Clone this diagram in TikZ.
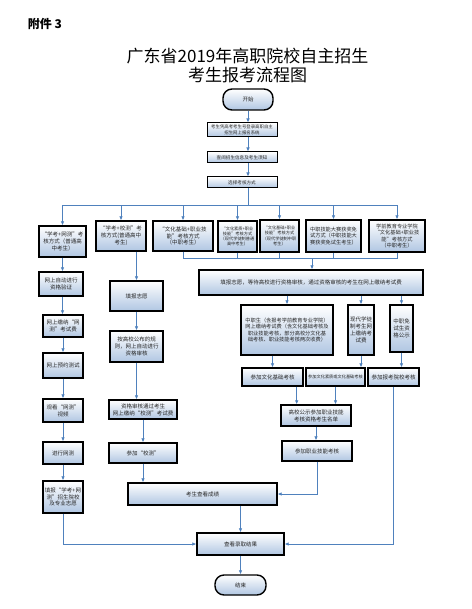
\documentclass[tikz,border=0pt]{standalone}
\usepackage{fontspec}
\setmainfont{Noto Sans CJK SC}
\usepackage{tikz}
\usetikzlibrary{arrows.meta, calc}
\definecolor{flowblue}{RGB}{79,129,189}
\definecolor{boxblue}{RGB}{176,198,226}
\newcommand{\sz}[1]{\fontsize{#1}{#1}\selectfont\baselineskip=1.25\baselineskip}

\begin{document}
\begin{tikzpicture}[x=1pt, y=-1pt, >={Latex[length=4pt,width=3.6pt]},
  box/.style={draw=black, line width=1.4pt, top color=white, bottom color=boxblue,
    align=center, inner sep=1pt, text=black!85, font=\sz{5.5}},
  term/.style={box, rounded corners=9pt},
  flow/.style={draw=flowblue, line width=0.9pt}]
  \useasboundingbox (0,0) rectangle (471,609);

  % heading
  \node[font=\bfseries\sz{12}] (annex) at (45,24) {附件 3};
  \node[font=\sz{17}] (title1) at (247.5,56) {广东省2019年高职院校自主招生};
  \node[font=\sz{17}] (title2) at (247.5,75) {考生报考流程图};

  % common start
  \node[term, minimum width=50, minimum height=21] (start) at (248,99.5) {开始};
  \node[box, line width=1pt, font=\sz{4.4}, minimum width=70, minimum height=14] (login) at (242,130)
    {考生凭高考考生号登录高职自主\\招生网上报名系统};
  \node[box, line width=1pt, font=\sz{4.6}, minimum width=70, minimum height=11] (info) at (242,157.5)
    {查阅招生信息及考生须知};
  \node[box, line width=1pt, font=\sz{4.6}, minimum width=70, minimum height=11] (choose) at (242,182.5)
    {选择考核方式};

  % assessment modes
  \node[box, minimum width=47, minimum height=31] (m1) at (62.5,241.5)
    {“学考+网测”考\\核方式（普通高\\中考生）};
  \node[box, minimum width=50, minimum height=30] (m2) at (121,236)
    {“学考+校测”考\\核方式(普通高中\\考生)};
  \node[box, minimum width=60, minimum height=30] (m3) at (183,236)
    {“文化基础+职业技\\能”考核方式\\（中职考生）};
  \node[box, font=\sz{4.2}, minimum width=39, minimum height=31] (m4) at (237.5,236.5)
    {“文化素质+职业\\技能”考核方式\\（现代学徒制普通\\高中考生）};
  \node[box, font=\sz{4.2}, minimum width=39, minimum height=32] (m5) at (279.5,236)
    {“文化基础+职业\\技能”考核方式\\（现代学徒制中职\\考生）};
  \node[box, font=\sz{5.2}, minimum width=55, minimum height=32] (m6) at (333.5,236)
    {中职技能大赛获奖免\\试方式（中职技能大\\赛获奖免试生考生）};
  \node[box, font=\sz{5.2}, minimum width=56, minimum height=32] (m7) at (397,236)
    {学前教育专业学院\\“文化基础+职业技\\能”考核方式\\（中职考生）};

  % online test branch
  \node[box, minimum width=44, minimum height=24] (a1) at (61,284) {网上自动进行\\资格验证};
  \node[box, minimum width=40, minimum height=22] (a2) at (63,326) {网上缴纳“网\\测”考试费};
  \node[box, minimum width=40, minimum height=25] (a3) at (63,365.5) {网上预约测试};
  \node[box, minimum width=40, minimum height=23] (a4) at (63,410.5) {观看“网测”\\视频};
  \node[box, minimum width=40, minimum height=22] (a5) at (63,453) {进行网测};
  \node[box, minimum width=40, minimum height=32] (a6) at (63,497) {填报“学考+网\\测”招生院校\\及专业志愿};

  % school test branch
  \node[box, minimum width=53, minimum height=30] (b1) at (136.5,296) {填报志愿};
  \node[box, minimum width=53, minimum height=31] (b2) at (136.5,346.5) {按高校公布的规\\则，网上自动进行\\资格审核};
  \node[box, minimum width=68, minimum height=19] (b3) at (143,409.5) {资格审核通过考生\\网上缴纳“校测”考试费};
  \node[box, minimum width=68, minimum height=20] (b4) at (143,453) {参加“校测”};

  % vocational branch
  \node[box, minimum width=224, minimum height=25] (big) at (311,282.5)
    {填报志愿，等待高校进行资格审核，通过资格审核的考生在网上缴纳考试费};
  \node[box, font=\sz{5.2}, minimum width=92, minimum height=50] (c1) at (287,330)
    {中职生（含报考学前教育专业学院）\\网上缴纳考试费（含文化基础考核及\\职业技能考核，部分高校分文化基\\础考核、职业技能考核两次收费）};
  \node[box, minimum width=26, minimum height=50] (c2) at (361,330) {现代学徒\\制考生网\\上缴纳考\\试费};
  \node[box, minimum width=23, minimum height=47] (c3) at (401.5,328.5) {中职免\\试生资\\格公示};
  \node[box, minimum width=61, minimum height=18] (d1) at (272.5,377) {参加文化基础考核};
  \node[box, font=\sz{4.2}, minimum width=59, minimum height=18] (d2) at (335.5,377) {参加文化素质或文化基础考核};
  \node[box, minimum width=51, minimum height=18] (d3) at (393.5,377) {参加报考院校考核};
  \node[box, minimum width=70, minimum height=21] (e1) at (316,415.5) {高校公示参加职业技能\\考核资格考生名单};
  \node[box, minimum width=70, minimum height=20] (e2) at (317,451) {参加职业技能考核};

  % results
  \node[box, minimum width=149, minimum height=22] (score) at (202.5,494) {考生查看成绩};
  \node[box, minimum width=87, minimum height=22] (result) at (240.5,544) {查看录取结果};
  \node[term, minimum width=51, minimum height=20] (finish) at (240.5,585) {结束};

  \coordinate (split) at (248,205);
  \coordinate (join) at (312,258);

  % connectors
  \draw[flow, ->] (start) -- (start.south |- login.north);
  \draw[flow, ->] (start.south |- login.south) -- (start.south |- info.north);
  \draw[flow, ->] (start.south |- info.south) -- (start.south |- choose.north);
  \draw[flow] (start.south |- choose.south) -- (split);
  \foreach \m in {m1,m2,m3,m4,m5,m6,m7}
    \draw[flow, ->] (split) -| (\m.north);
  \draw[flow] (m3.south) |- (join);
  \draw[flow] (m7.south) |- (join);
  \foreach \m in {m4,m5,m6}
    \draw[flow] (\m.south) -- (\m.south |- join);
  \draw[flow, ->] (join) -- (join |- big.north);

  \draw[flow, ->] (m1) -- (m1.south |- a1.north);
  \draw[flow, ->] (m1.south |- a1.south) -- (m1.south |- a2.north);
  \draw[flow, ->] (a2) -- (a3);
  \draw[flow, ->] (a3) -- (a4);
  \draw[flow, ->] (a4) -- (a5);
  \draw[flow, ->] (a5) -- (a6);
  \draw[flow, ->] (a6.south) |- (result.west);

  \draw[flow, ->] (m2.south -| b1.north) -- (b1.north);
  \draw[flow, ->] (b1) -- (b2);
  \draw[flow, ->] (b2.south) -- (b2.south |- b3.north);
  \draw[flow, ->] (b3) -- (b4);
  \draw[flow, ->] (b4.south) -- (b4.south |- score.north);

  \draw[flow, ->] (c1.north |- big.south) -- (c1.north);
  \draw[flow, ->] (c2.north |- big.south) -- (c2.north);
  \draw[flow, ->] (c3.north |- big.south) -- (c3.north);
  \draw[flow, ->] (c1.south -| d1.north) -- (d1.north);
  \draw[flow, ->] (c2.south) -- (c2.south |- d2.north);
  \draw[flow, ->] (c3.south) -- (c3.south |- d3.north);
  \draw[flow, ->] ([xshift=-7pt]d1.south east) -- ([xshift=-7pt]d1.south east |- e1.north);
  \draw[flow, ->] (d2.south) -- (d2.south |- e1.north);
  \draw[flow, ->] (e1.south) -- (e1.south |- e2.north);
  \draw[flow, ->] (e2.south) |- (score.east);
  \draw[flow, ->] (d3.south) |- (result.east);

  \draw[flow, ->] (score.south -| result.north) -- (result.north);
  \draw[flow, ->] (result) -- (finish);
\end{tikzpicture}
\end{document}
